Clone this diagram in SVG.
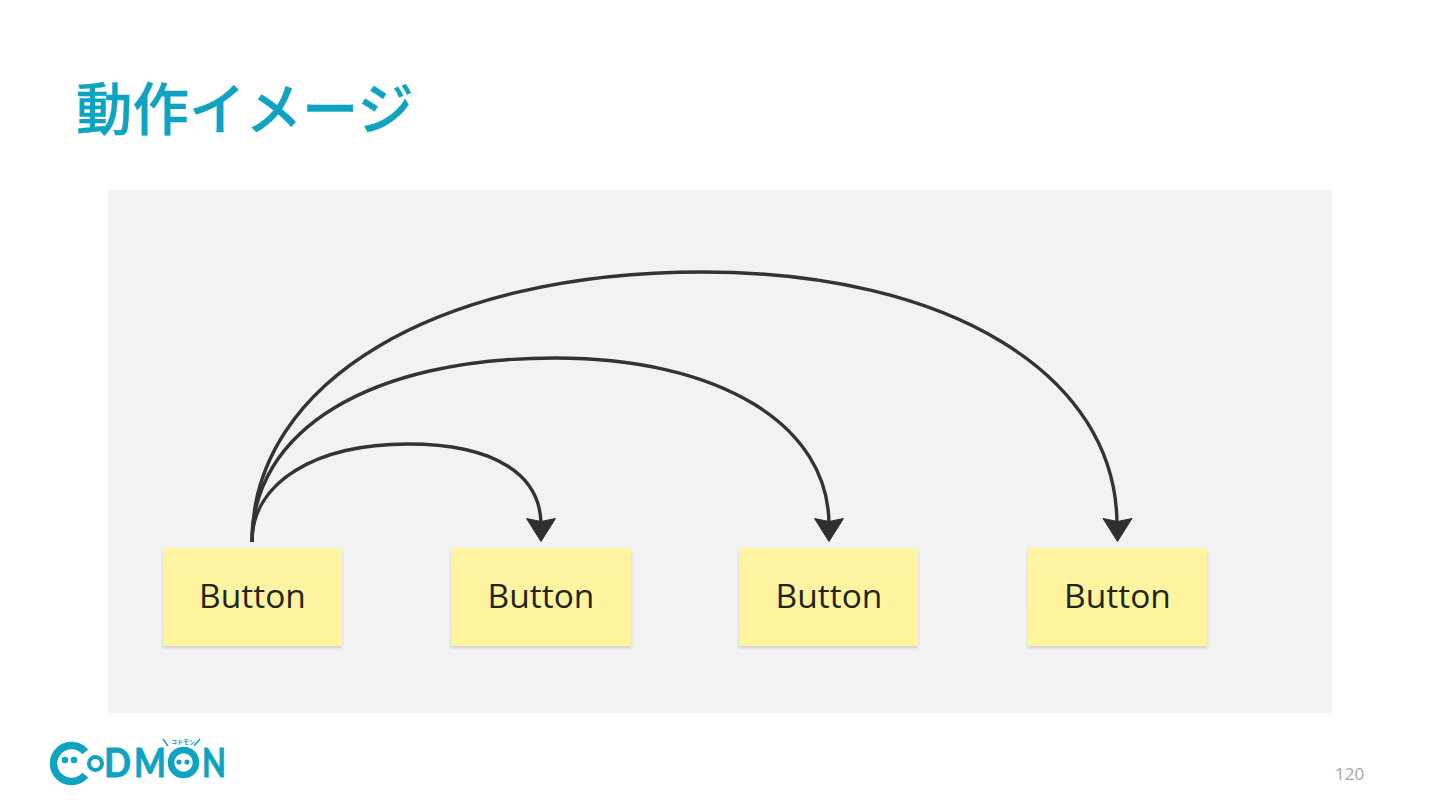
<svg xmlns="http://www.w3.org/2000/svg" width="1440" height="810" viewBox="0 0 1440 810">
<style>
.note{fill:url(#ng);filter:url(#sh)}
.bt{font-family:"Open Sans","Noto Sans",sans-serif;font-size:33.500px;fill:#24241c;text-anchor:middle}
.c{fill:none;stroke:#333;stroke-width:3.400;stroke-linecap:butt}
.h{fill:#2f2f2f;stroke:#2f2f2f;stroke-width:1;stroke-linejoin:round}
.lg{font-family:"Lato","Noto Sans",sans-serif;font-weight:700;fill:#0ea3c1;stroke:#0ea3c1;stroke-width:0.800}
</style>
<defs>
<linearGradient id="ng" x1="0" y1="0" x2="0" y2="1"><stop offset="0" stop-color="#fef4a2"/><stop offset="1" stop-color="#fff59d"/></linearGradient>
<filter id="sh" x="-5%" y="-5%" width="110%" height="115%"><feDropShadow dx="0" dy="2" stdDeviation="1.500" flood-color="#000" flood-opacity="0.15"/></filter>
<path id="ah" d="M-14.500 -22.500 L0 -19.500 L14.500 -22.500 L0 0.500 Z"/>
</defs>
<rect width="1440" height="810" fill="#fff"/>
<text x="76" y="129.500" font-family="'Noto Sans CJK JP',sans-serif" font-size="56.500" font-weight="500" fill="#0ea3c1" stroke="#0ea3c1" stroke-width="0.300">動作イメージ</text>
<rect x="108" y="190" width="1224" height="523" fill="#f2f2f2"/>
<g id="connectors">
<path class="c" d="M252 542 C252 482 316 444 408 444 C495 444 541 475 541 525"/>
<path class="c" d="M252 542 C252 430 370 358 555 358 C720 358 829 425 829 525"/>
<path class="c" d="M252 542 C252 380 440 272 702 272 C950 272 1117 375 1117 525"/>
<use href="#ah" class="h" x="541" y="541"/>
<use href="#ah" class="h" x="829" y="541"/>
<use href="#ah" class="h" x="1117.500" y="541"/>
</g>
<g id="node1"><rect class="note" x="163" y="548" width="179" height="98"/><text class="bt" x="252.500" y="608">Button</text></g>
<g id="node2"><rect class="note" x="451" y="548" width="180" height="98"/><text class="bt" x="541" y="608">Button</text></g>
<g id="node3"><rect class="note" x="739" y="548" width="179" height="98"/><text class="bt" x="829" y="608">Button</text></g>
<g id="node4"><rect class="note" x="1028" y="548" width="179" height="98"/><text class="bt" x="1117.500" y="608">Button</text></g>
<g id="logo">
<path d="M85.300 751.900 A18 18 0 1 0 85.300 775.100" fill="none" stroke="#0ea3c1" stroke-width="7.500"/>
<circle cx="65" cy="760" r="3.300" fill="#0ea3c1"/><circle cx="74" cy="760" r="3.300" fill="#0ea3c1"/>
<circle cx="95.500" cy="763.500" r="6.500" fill="none" stroke="#0ea3c1" stroke-width="4"/>
<text class="lg" x="104" y="777" font-size="40" textLength="27" lengthAdjust="spacingAndGlyphs">D</text>
<text class="lg" x="134" y="777" font-size="40" textLength="32" lengthAdjust="spacingAndGlyphs">M</text>
<circle cx="183.500" cy="762.500" r="12.500" fill="none" stroke="#0ea3c1" stroke-width="6.500"/>
<circle cx="179" cy="762" r="2.600" fill="#0ea3c1"/><circle cx="187" cy="762" r="2.600" fill="#0ea3c1"/>
<text class="lg" x="202" y="777" font-size="40" textLength="24" lengthAdjust="spacingAndGlyphs">N</text>
<text x="183" y="744" font-family="'Noto Sans CJK JP',sans-serif" font-size="6" font-weight="700" fill="#0ea3c1" text-anchor="middle">コドモン</text>
<path d="M163 739 L168 746 M200 739 L194 746" stroke="#0ea3c1" stroke-width="1.500" fill="none"/>
</g>
<text x="1335" y="780" font-family="'Open Sans',sans-serif" font-size="17" fill="#a6a6a6">120</text>
</svg>
